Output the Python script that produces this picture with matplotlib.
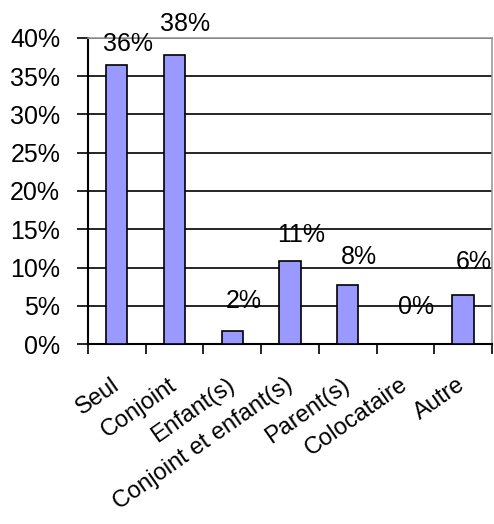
import matplotlib
matplotlib.use("Agg")
import matplotlib.pyplot as plt
from matplotlib.ticker import FuncFormatter, FixedLocator

categories = ["Seul", "Conjoint", "Enfant(s)", "Conjoint et enfant(s)", "Parent(s)", "Colocataire", "Autre"]
values = [36.5, 37.8, 1.7, 10.8, 7.7, 0.0, 6.4]
labels = ["36%", "38%", "2%", "11%", "8%", "0%", "6%"]
label_dy = [21, 31, 30, 26, 28, 37, 33]  # pixel offsets of data labels

plt.rcParams['font.family'] = ['Liberation Sans', 'DejaVu Sans']

fig = plt.figure(figsize=(4.94, 5.24), dpi=100)
ax = fig.add_axes([0.178, 0.3435, 0.818, 0.584])

x = list(range(len(categories)))
ax.bar(x, values, width=0.37, color="#9999FF", edgecolor="black", linewidth=1.2, zorder=3)

ax.set_xlim(-0.5, len(categories) - 0.5)
ax.set_ylim(0, 40)
ax.set_yticks([0, 5, 10, 15, 20, 25, 30, 35, 40])
ax.yaxis.set_major_formatter(FuncFormatter(lambda v, p: f"{int(v)}%"))
ax.grid(axis="y", color="black", linewidth=1.2, zorder=0)
ax.tick_params(axis="y", length=8, width=1.2, labelsize=18, pad=12)

ax.set_xticks(x)
ax.set_xticklabels(categories, rotation=35, ha="right", va="center", rotation_mode="anchor", fontsize=17)
ax.tick_params(axis="x", length=0, pad=28)
ax.xaxis.set_minor_locator(FixedLocator([i + 0.5 for i in range(-1, len(categories))]))
ax.tick_params(axis="x", which="minor", length=7, width=1.2)

for s in ["left", "bottom"]:
    ax.spines[s].set_color("black")
    ax.spines[s].set_linewidth(1.5)
for s in ["top", "right"]:
    ax.spines[s].set_color("#999999")
    ax.spines[s].set_linewidth(1.2)

for xi, v, lab, dy in zip(x, values, labels, label_dy):
    ax.annotate(lab, (xi, v), xytext=(11, dy), textcoords="offset pixels",
                ha="center", va="center", fontsize=18, zorder=5, annotation_clip=False)

fig.savefig("out.png", dpi=100)
